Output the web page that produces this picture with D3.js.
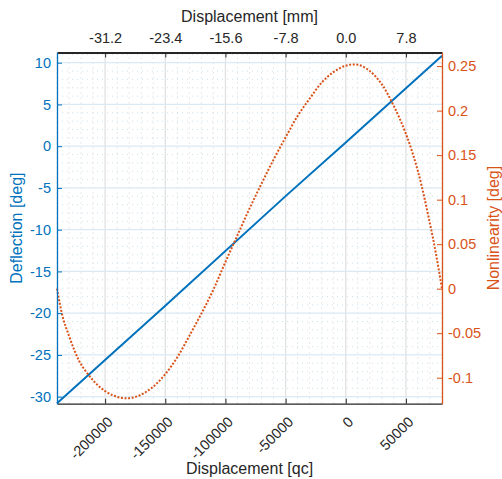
<!DOCTYPE html>
<html>
<head>
<meta charset="utf-8">
<script src="https://cdn.jsdelivr.net/npm/d3@7"></script>
<style>
    body { margin: 0; background: #fff; }
    svg { display: block; font-family: "Liberation Sans", Arial, Helvetica, sans-serif; }
</style>
</head>
<body>
<div class="chart-container"></div>
<script>
// x positions in quadrature counts
const qcTicks = [-200000, -150000, -100000, -50000, 0, 50000];
const mmLabels = ['-31.2', '-23.4', '-15.6', '-7.8', '0.0', '7.8'];
const deflTicks = [-30, -25, -20, -15, -10, -5, 0, 5, 10];
const nonlinTicks = [-0.1, -0.05, 0, 0.05, 0.1, 0.15, 0.2, 0.25];

// deflection (blue solid)
const deflQc = [-240000, -150000, -50000, 0, 80000];
const deflDeg = [-30.79, -19.1, -5.98, 0.43, 10.84];

// nonlinearity (orange dotted)
const nonlinQc = [-240000, -235000, -230000, -225000, -220000, -210000, -200000, -190000,
                  -180000, -170000, -160000, -150000, -140000, -130000, -120000, -110000,
                  -100000, -90000, -80000, -70000, -60000, -50000, -40000, -30000,
                  -20000, -10000, 0, 10000, 20000, 30000, 40000, 50000,
                  60000, 70000, 75000, 80000];
const nonlinDeg = [0, -0.033, -0.053, -0.071, -0.085, -0.103, -0.115, -0.1215,
                   -0.123, -0.119, -0.110, -0.096, -0.077, -0.053, -0.028, -0.001,
                   0.030, 0.060, 0.090, 0.118, 0.145, 0.170, 0.194, 0.2135,
                   0.2315, 0.2435, 0.2505, 0.2515, 0.2445, 0.2295, 0.205, 0.174,
                   0.132, 0.073, 0.039, 0];

const width = 502;
const height = 479;
const margin = { top: 52.5, right: 60, bottom: 75.3, left: 57 };
const blue = '#0072BD';
const orange = '#D95319';
const dark = '#262626';

const svg = d3.select('.chart-container')
              .append('svg')
              .attr('width', width)
              .attr('height', height);

const x = d3.scaleLinear()
            .domain([-240000, 80000])
            .range([margin.left, width - margin.right]);

const yL = d3.scaleLinear()
             .domain([-30.84, 11.22])
             .range([height - margin.bottom, margin.top]);

const yR = d3.scaleLinear()
             .domain([-0.1292, 0.2653])
             .range([height - margin.bottom, margin.top]);

const x0 = x.range()[0], x1 = x.range()[1];
const y0 = yL.range()[0], y1 = yL.range()[1];

// grid
const grid = svg.append('g');
const minorX = d3.range(-240000, 80001, 10000).filter(d => d % 50000 !== 0);
const minorY = d3.range(-30, 12, 1).filter(d => d % 5 !== 0);

grid.selectAll('.minor-x')
    .data(minorX)
    .enter()
    .append('line')
    .attr('x1', d => x(d)).attr('x2', d => x(d))
    .attr('y1', y1).attr('y2', y0)
    .attr('stroke', '#d2d2d2')
    .attr('stroke-width', 1)
    .attr('stroke-dasharray', '1,4');

grid.selectAll('.minor-y')
    .data(minorY)
    .enter()
    .append('line')
    .attr('x1', x0).attr('x2', x1)
    .attr('y1', d => yL(d)).attr('y2', d => yL(d))
    .attr('stroke', '#cbe1f0')
    .attr('stroke-width', 1)
    .attr('stroke-dasharray', '1,4');

grid.selectAll('.major-x')
    .data(qcTicks)
    .enter()
    .append('line')
    .attr('x1', d => x(d)).attr('x2', d => x(d))
    .attr('y1', y1).attr('y2', y0)
    .attr('stroke', '#e1e1e1')
    .attr('stroke-width', 1.3);

grid.selectAll('.major-y')
    .data(deflTicks)
    .enter()
    .append('line')
    .attr('x1', x0).attr('x2', x1)
    .attr('y1', d => yL(d)).attr('y2', d => yL(d))
    .attr('stroke', '#dae9f4')
    .attr('stroke-width', 1.3);

// lines
const deflLine = d3.line()
                   .x((d, i) => x(deflQc[i]))
                   .y(d => yL(d));

const nonlinLine = d3.line()
                     .curve(d3.curveCatmullRom.alpha(0.5))
                     .x((d, i) => x(nonlinQc[i]))
                     .y(d => yR(d));

svg.append('path')
   .attr('d', deflLine(deflDeg))
   .attr('fill', 'none')
   .attr('stroke', blue)
   .attr('stroke-width', 2);

svg.append('path')
   .attr('d', nonlinLine(nonlinDeg))
   .attr('fill', 'none')
   .attr('stroke', orange)
   .attr('stroke-width', 2)
   .attr('stroke-dasharray', '2,1.6');

// axes
function style(g, color, lw) {
    g.selectAll('.domain').attr('stroke', color).attr('stroke-width', lw);
    g.selectAll('.tick line').attr('stroke', color).attr('stroke-width', 1);
    g.selectAll('.tick text').attr('fill', color).attr('font-size', '14.5px');
    g.attr('font-family', null);
}

const bottomAxis = d3.axisBottom(x)
                     .tickValues(qcTicks)
                     .tickFormat(d => String(d))
                     .tickSizeInner(-5)
                     .tickSizeOuter(0);
const gb = svg.append('g')
              .attr('transform', 'translate(0,' + y0 + ')')
              .call(bottomAxis)
              .call(g => style(g, dark, 1.3));
gb.selectAll('.tick text')
  .attr('y', null)
  .attr('dy', null)
  .attr('text-anchor', 'end')
  .attr('transform', 'translate(8,19) rotate(-45)');

const topAxis = d3.axisTop(x)
                  .tickValues(qcTicks)
                  .tickFormat((d, i) => mmLabels[i])
                  .tickSizeInner(-5)
                  .tickSizeOuter(0)
                  .tickPadding(9.5);
svg.append('g')
   .attr('transform', 'translate(0,' + y1 + ')')
   .call(topAxis)
   .call(g => style(g, dark, 1.8));

const leftAxis = d3.axisLeft(yL)
                   .tickValues(deflTicks)
                   .tickFormat(d => String(d))
                   .tickSizeInner(-5)
                   .tickSizeOuter(0)
                   .tickPadding(6);
svg.append('g')
   .attr('transform', 'translate(' + x0 + ',0)')
   .call(leftAxis)
   .call(g => style(g, blue, 1.3));

const rightAxis = d3.axisRight(yR)
                    .tickValues(nonlinTicks)
                    .tickFormat(d => String(+d.toFixed(2)))
                    .tickSizeInner(-5)
                    .tickSizeOuter(0)
                    .tickPadding(6);
svg.append('g')
   .attr('transform', 'translate(' + x1 + ',0)')
   .call(rightAxis)
   .call(g => style(g, orange, 1.3));

// labels
const midX = (x0 + x1) / 2;
const midY = (y0 + y1) / 2;

svg.append('text')
   .attr('x', midX).attr('y', 22)
   .attr('text-anchor', 'middle')
   .attr('font-size', '16px')
   .attr('fill', dark)
   .text('Displacement [mm]');

svg.append('text')
   .attr('x', midX).attr('y', 474)
   .attr('text-anchor', 'middle')
   .attr('font-size', '16px')
   .attr('fill', dark)
   .text('Displacement [qc]');

svg.append('text')
   .attr('transform', 'translate(22,' + midY + ') rotate(-90)')
   .attr('text-anchor', 'middle')
   .attr('font-size', '16px')
   .attr('fill', blue)
   .text('Deflection [deg]');

svg.append('text')
   .attr('transform', 'translate(498.5,' + midY + ') rotate(-90)')
   .attr('text-anchor', 'middle')
   .attr('font-size', '16px')
   .attr('fill', orange)
   .text('Nonlinearity [deg]');
</script>
</body>
</html>
